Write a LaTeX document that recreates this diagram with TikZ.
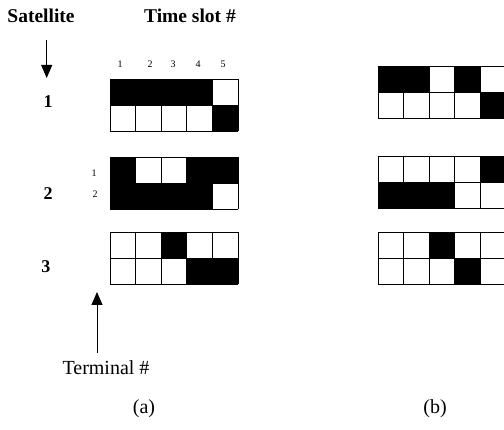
\documentclass[tikz,border=0pt]{standalone}
\usepackage{fontspec}
\setmainfont{Liberation Serif}
\usetikzlibrary{arrows.meta}
\newcommand{\slotgrid}[4]{%
  \foreach \c/\r in {#4} \fill ({#1+(\c-1)*#3},{#2+(\r-1)*26}) rectangle ++(#3,26);
  \foreach \i in {0,...,5} \draw[cellline] ({#1+\i*#3},#2) -- ++(0,52);
  \foreach \j in {0,1,2} \draw[cellline] (#1,{#2+\j*26}) -- ++({5*#3},0);
}
\begin{document}
\begin{tikzpicture}[x=1pt,y=-1pt,
  big/.style={font=\fontsize{19.5}{20}\selectfont\bfseries, inner sep=0pt, anchor=base},
  lab/.style={font=\fontsize{20}{22}\selectfont, inner sep=0pt, anchor=base},
  small/.style={font=\fontsize{10}{11}\selectfont, inner sep=0pt, anchor=base},
  satnum/.style={font=\fontsize{18}{20}\selectfont\bfseries, inner sep=0pt, anchor=base},
  cellline/.style={line width=0.8pt},
  pointer/.style={line width=0.9pt, -{Triangle[length=13pt,width=11pt]}}]
\useasboundingbox (0,0) rectangle (504,430);
\fill[white] (0,0) rectangle (504,430);
\clip (0,0) rectangle (504,430);
% headings
\node[big] (sat) at (41,23) {Satellite};
\node[big] (slot) at (190,23) {Time slot \#};
\coordinate (satfrom) at (46.7,40);
\coordinate (satto) at (46.7,78);
\draw[pointer] (satfrom) -- (satto);
% column numbers
\node[small] (c1) at (120,67.5) {1};
\node[small] (c2) at (150,67.5) {2};
\node[small] (c3) at (173,67.5) {3};
\node[small] (c4) at (198,67.5) {4};
\node[small] (c5) at (223,67.5) {5};
% satellite numbers
\node[satnum] (s1) at (48,108) {1};
\node[satnum] (s2) at (48,200) {2};
\node[satnum] (s3) at (46,273) {3};
% terminal numbers
\node[small] (t1) at (94,177) {1};
\node[small] (t2) at (95,198) {2};
% grids (a)
\slotgrid{110}{79}{25.6}{1/1,2/1,3/1,4/1,5/2}
\slotgrid{110}{157}{25.6}{1/1,4/1,5/1,1/2,2/2,3/2,4/2}
\slotgrid{110}{232}{25.6}{3/1,4/2,5/2}
% grids (b)
\slotgrid{378.3}{66.5}{25.4}{1/1,2/1,4/1,5/2}
\slotgrid{378.3}{156}{25.4}{5/1,1/2,2/2,3/2}
\slotgrid{378.3}{232}{25.4}{3/1,4/2}
% terminal arrow
\coordinate (termfrom) at (97,353);
\coordinate (termto) at (97,292);
\draw[pointer] (termfrom) -- (termto);
\node[lab] (term) at (106,375) {Terminal \#};
% captions
\node[lab] (capa) at (144,414) {(a)};
\node[lab] (capb) at (435,414) {(b)};
\end{tikzpicture}
\end{document}
